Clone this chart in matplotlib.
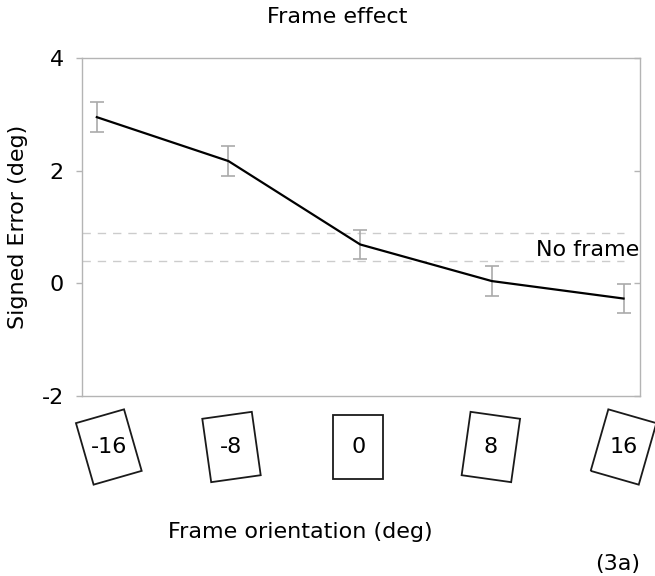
import matplotlib
matplotlib.use("Agg")
import matplotlib.pyplot as plt
import matplotlib.transforms as mtransforms
from matplotlib.patches import Rectangle

# frame tilt conditions and mean signed error (deg) with error bars
orientations = [-16, -8, 0, 8, 16]
signed_error = [2.95, 2.17, 0.69, 0.04, -0.27]
error = [0.27, 0.26, 0.25, 0.27, 0.26]
# no-frame baseline band
no_frame_band = [0.40, 0.90]
yticks = [-2, 0, 2, 4]

plt.rcParams['font.family'] = ['DejaVu Sans']
plt.rcParams['font.size'] = 16
plt.rcParams['axes.unicode_minus'] = False

W, H = 655, 576
fig = plt.figure(figsize=(W / 100, H / 100), dpi=100)
ax = fig.add_axes([82 / W, 1 - 396 / H, (640 - 82) / W, (396 - 58) / H])

grey = '#b4b4b4'
ax.errorbar(orientations, signed_error, yerr=error, color='black', lw=1.6,
            ecolor='#aaaaaa', elinewidth=1.2, capsize=5, capthick=1.2, zorder=3)
for yb in no_frame_band:
    ax.plot([-16.9, 16.0], [yb, yb], color='#cccccc', lw=1.0,
            dashes=(6, 5), zorder=1)
ax.text(16.95, 0.59, 'No frame', ha='right', va='center', fontsize=16)

ax.set_xlim(-16.9, 17.0)
ax.set_ylim(-2, 4)
ax.set_yticks(yticks)
ax.set_xticks([])
for s in ax.spines.values():
    s.set_color(grey)
    s.set_linewidth(1.0)
ax.tick_params(axis='y', direction='out', length=4, width=1.0, color=grey,
               pad=9, labelsize=16)

# inward ticks on the right side
ax2 = ax.twinx()
ax2.set_ylim(ax.get_ylim())
ax2.set_yticks(yticks)
ax2.tick_params(axis='y', direction='in', length=4, width=1.0, color=grey,
                labelright=False)
for s in ax2.spines.values():
    s.set_visible(False)

# tilted frame icons under each condition (pixel nudges keep them tidy)
box_y = 1 - 447 / H
box_shift = [12, 3, -2, -1, 0]
blend = mtransforms.blended_transform_factory(ax.transData, fig.transFigure)
bw, bh = 50, 64
for ori, dx in zip(orientations, box_shift):
    place = (mtransforms.ScaledTranslation(ori, box_y, blend)
             + mtransforms.Affine2D().translate(dx, 0))
    tr = mtransforms.Affine2D().rotate_deg(-ori) + place
    rect = Rectangle((-bw / 2, -bh / 2), bw, bh, fill=False, ec='#1a1a1a',
                     lw=1.3, transform=tr, clip_on=False)
    fig.add_artist(rect)
    fig.text(0, 0, str(ori), transform=place, ha='center', va='center',
             fontsize=16)

fig.text(337 / W, 1 - 17 / H, 'Frame effect', ha='center', va='center',
         fontsize=16)
fig.text(18 / W, 1 - 227 / H, 'Signed Error (deg)', rotation=90,
         ha='center', va='center', fontsize=16)
fig.text(300 / W, 1 - 532 / H, 'Frame orientation (deg)', ha='center',
         va='center', fontsize=16)
fig.text(640 / W, 1 - 564 / H, '(3a)', ha='right', va='center', fontsize=16)

fig.savefig('out.png', dpi=100)
